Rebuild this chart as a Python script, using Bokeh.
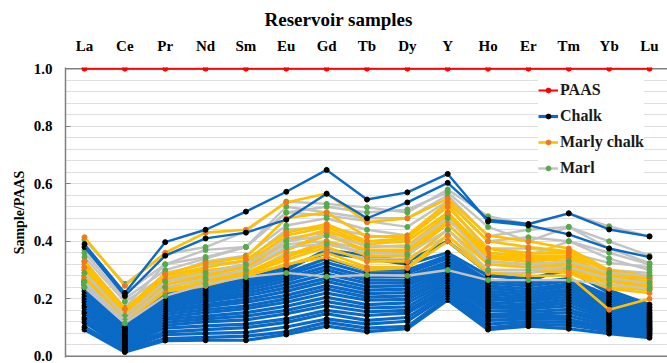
from bokeh.plotting import figure
from bokeh.models import Range1d, FixedTicker, Legend, LegendItem, Span, NumeralTickFormatter
from bokeh.embed import file_html
from bokeh.resources import INLINE

# ---------------- data ----------------
elements = ["La", "Ce", "Pr", "Nd", "Sm", "Eu", "Gd", "Tb", "Dy", "Y", "Ho", "Er", "Tm", "Yb", "Lu"]
y_ticks = [0.0, 0.2, 0.4, 0.6, 0.8, 1.0]
paas = [1.0, 1.0, 1.0, 1.0, 1.0, 1.0, 1.0, 1.0, 1.0, 1.0, 1.0, 1.0, 1.0, 1.0, 1.0]

chalk = [
    [0.093, 0.015, 0.055, 0.056, 0.056, 0.076, 0.105, 0.086, 0.096, 0.196, 0.093, 0.105, 0.096, 0.079, 0.065],
    [0.102, 0.022, 0.062, 0.066, 0.070, 0.085, 0.118, 0.098, 0.104, 0.205, 0.100, 0.112, 0.108, 0.088, 0.072],
    [0.118, 0.028, 0.075, 0.080, 0.083, 0.102, 0.130, 0.112, 0.122, 0.214, 0.112, 0.121, 0.118, 0.095, 0.078],
    [0.128, 0.035, 0.085, 0.093, 0.100, 0.118, 0.148, 0.125, 0.135, 0.222, 0.125, 0.130, 0.128, 0.100, 0.082],
    [0.135, 0.040, 0.098, 0.106, 0.112, 0.130, 0.160, 0.142, 0.150, 0.230, 0.136, 0.138, 0.140, 0.108, 0.088],
    [0.148, 0.046, 0.108, 0.120, 0.127, 0.148, 0.176, 0.155, 0.160, 0.240, 0.145, 0.146, 0.152, 0.116, 0.092],
    [0.155, 0.050, 0.118, 0.130, 0.140, 0.160, 0.190, 0.168, 0.172, 0.250, 0.158, 0.155, 0.163, 0.122, 0.096],
    [0.168, 0.055, 0.128, 0.140, 0.152, 0.174, 0.205, 0.180, 0.186, 0.258, 0.168, 0.165, 0.175, 0.130, 0.100],
    [0.176, 0.060, 0.136, 0.152, 0.166, 0.188, 0.220, 0.195, 0.198, 0.267, 0.178, 0.172, 0.186, 0.138, 0.105],
    [0.188, 0.066, 0.146, 0.162, 0.175, 0.200, 0.234, 0.206, 0.210, 0.275, 0.188, 0.180, 0.196, 0.145, 0.110],
    [0.196, 0.070, 0.155, 0.172, 0.188, 0.212, 0.246, 0.218, 0.222, 0.284, 0.198, 0.190, 0.206, 0.152, 0.115],
    [0.205, 0.075, 0.162, 0.180, 0.198, 0.226, 0.260, 0.230, 0.234, 0.292, 0.206, 0.198, 0.216, 0.160, 0.120],
    [0.215, 0.080, 0.170, 0.190, 0.210, 0.238, 0.272, 0.242, 0.246, 0.300, 0.216, 0.206, 0.226, 0.168, 0.126],
    [0.226, 0.085, 0.178, 0.198, 0.220, 0.250, 0.286, 0.254, 0.256, 0.310, 0.226, 0.215, 0.234, 0.176, 0.132],
    [0.236, 0.090, 0.186, 0.206, 0.230, 0.262, 0.300, 0.265, 0.266, 0.318, 0.236, 0.224, 0.244, 0.184, 0.138],
    [0.246, 0.095, 0.194, 0.214, 0.240, 0.272, 0.312, 0.276, 0.278, 0.328, 0.245, 0.234, 0.252, 0.192, 0.145],
    [0.256, 0.100, 0.202, 0.222, 0.248, 0.282, 0.326, 0.288, 0.290, 0.340, 0.255, 0.245, 0.262, 0.200, 0.152],
    [0.265, 0.105, 0.210, 0.230, 0.255, 0.290, 0.340, 0.300, 0.300, 0.350, 0.265, 0.255, 0.270, 0.210, 0.160],
    [0.260, 0.110, 0.220, 0.245, 0.270, 0.310, 0.360, 0.340, 0.320, 0.360, 0.280, 0.270, 0.300, 0.220, 0.170],
    [0.250, 0.100, 0.215, 0.240, 0.260, 0.300, 0.370, 0.350, 0.330, 0.400, 0.290, 0.260, 0.310, 0.230, 0.180],
]
chalk_high = [
    [0.380, 0.210, 0.350, 0.410, 0.430, 0.475, 0.565, 0.480, 0.535, 0.603, 0.475, 0.460, 0.497, 0.441, 0.417],
    [0.390, 0.220, 0.397, 0.440, 0.503, 0.572, 0.648, 0.545, 0.570, 0.634, 0.469, 0.455, 0.424, 0.375, 0.345],
]
marly_chalk = [
    [0.414, 0.245, 0.360, 0.430, 0.440, 0.535, 0.566, 0.466, 0.480, 0.548, 0.420, 0.400, 0.375, 0.300, 0.280],
    [0.330, 0.160, 0.285, 0.324, 0.345, 0.480, 0.500, 0.415, 0.420, 0.535, 0.400, 0.380, 0.365, 0.290, 0.270],
    [0.320, 0.155, 0.280, 0.310, 0.335, 0.430, 0.460, 0.400, 0.410, 0.520, 0.375, 0.350, 0.350, 0.280, 0.260],
    [0.300, 0.150, 0.270, 0.295, 0.320, 0.420, 0.450, 0.390, 0.400, 0.500, 0.360, 0.345, 0.340, 0.270, 0.250],
    [0.290, 0.140, 0.260, 0.285, 0.310, 0.400, 0.440, 0.380, 0.385, 0.490, 0.350, 0.340, 0.330, 0.265, 0.245],
    [0.280, 0.135, 0.250, 0.275, 0.300, 0.370, 0.420, 0.370, 0.370, 0.480, 0.345, 0.330, 0.320, 0.260, 0.240],
    [0.275, 0.130, 0.240, 0.265, 0.290, 0.350, 0.400, 0.350, 0.350, 0.460, 0.330, 0.320, 0.310, 0.250, 0.235],
    [0.270, 0.125, 0.230, 0.255, 0.285, 0.335, 0.380, 0.330, 0.330, 0.440, 0.320, 0.310, 0.300, 0.240, 0.230],
    [0.270, 0.120, 0.225, 0.245, 0.280, 0.317, 0.360, 0.310, 0.310, 0.420, 0.300, 0.300, 0.290, 0.235, 0.220],
    [0.280, 0.130, 0.235, 0.250, 0.280, 0.320, 0.345, 0.300, 0.307, 0.400, 0.290, 0.280, 0.280, 0.162, 0.200],
    [0.310, 0.145, 0.265, 0.280, 0.290, 0.345, 0.390, 0.360, 0.360, 0.470, 0.375, 0.360, 0.360, 0.293, 0.276],
    [0.330, 0.165, 0.285, 0.300, 0.310, 0.370, 0.430, 0.360, 0.370, 0.490, 0.340, 0.330, 0.345, 0.280, 0.260],
]
marl = [
    [0.405, 0.252, 0.355, 0.380, 0.434, 0.538, 0.530, 0.518, 0.500, 0.580, 0.487, 0.459, 0.497, 0.452, 0.417],
    [0.370, 0.220, 0.320, 0.370, 0.380, 0.520, 0.500, 0.480, 0.480, 0.560, 0.417, 0.440, 0.450, 0.375, 0.324],
    [0.360, 0.200, 0.300, 0.340, 0.380, 0.500, 0.490, 0.470, 0.450, 0.540, 0.400, 0.414, 0.400, 0.360, 0.320],
    [0.345, 0.190, 0.280, 0.330, 0.350, 0.455, 0.480, 0.440, 0.420, 0.520, 0.375, 0.375, 0.360, 0.325, 0.310],
    [0.300, 0.150, 0.270, 0.310, 0.330, 0.410, 0.430, 0.400, 0.400, 0.500, 0.345, 0.330, 0.350, 0.300, 0.290],
    [0.290, 0.140, 0.260, 0.290, 0.320, 0.400, 0.420, 0.385, 0.380, 0.480, 0.330, 0.320, 0.330, 0.290, 0.280],
    [0.280, 0.130, 0.250, 0.280, 0.310, 0.390, 0.400, 0.370, 0.360, 0.460, 0.320, 0.310, 0.320, 0.280, 0.270],
    [0.260, 0.125, 0.240, 0.270, 0.300, 0.380, 0.390, 0.360, 0.355, 0.440, 0.300, 0.300, 0.310, 0.270, 0.255],
    [0.250, 0.120, 0.225, 0.260, 0.285, 0.360, 0.370, 0.340, 0.340, 0.420, 0.290, 0.290, 0.300, 0.260, 0.245],
    [0.240, 0.115, 0.210, 0.250, 0.276, 0.290, 0.277, 0.283, 0.280, 0.300, 0.265, 0.265, 0.265, 0.250, 0.235],
    [0.330, 0.170, 0.320, 0.345, 0.380, 0.500, 0.520, 0.500, 0.510, 0.570, 0.450, 0.400, 0.450, 0.400, 0.350],
    [0.310, 0.160, 0.290, 0.320, 0.330, 0.440, 0.450, 0.420, 0.410, 0.530, 0.360, 0.350, 0.400, 0.340, 0.300],
]
# marl samples drawn above the marly chalk lines (by index into marl)
marl_on_top = [5, 7, 9]

# ---------------- styles ----------------
FONT = "Liberation Serif"
AXIS_GRAY = "#7f7f7f"
C_PAAS = "#ff0000"
C_CHALK = "#0a6ac6"
C_CHALK_M = "#000000"
C_MC = "#ffc000"
C_MC_M = "#f0781e"
C_MARL = "#c3c3c3"
C_MARL_M = "#55aa4a"

x_idx = list(range(len(elements)))

p = figure(width=667, height=363, output_backend="svg", toolbar_location=None,
           x_range=Range1d(-0.471, 14.446), y_range=Range1d(-0.004, 1.004),
           x_axis_location="above", title="Reservoir samples",
           min_border_left=65, min_border_top=67, min_border_right=0, min_border_bottom=6)
p.outline_line_color = None
p.background_fill_color = "white"

# title
p.title.text_font = FONT
p.title.text_font_style = "bold"
p.title.text_font_size = "19px"
p.title.align = "left"
p.title.offset = 199
p.title.standoff = 9
p.title.text_color = "black"

# x axis (top)
p.xaxis.ticker = FixedTicker(ticks=x_idx)
p.xaxis.major_label_overrides = {i: e for i, e in enumerate(elements)}
p.xaxis.major_label_text_font = FONT
p.xaxis.major_label_text_font_style = "bold"
p.xaxis.major_label_text_font_size = "15px"
p.xaxis.major_label_text_color = "black"
p.xaxis.major_tick_line_color = None
p.xaxis.minor_tick_line_color = None
p.xaxis.axis_line_color = None
p.xaxis.major_label_standoff = 8

# y axis
p.yaxis.ticker = FixedTicker(ticks=y_ticks)
p.yaxis.formatter = NumeralTickFormatter(format="0.0")
p.yaxis.axis_label = "Sample/PAAS"
p.yaxis.axis_label_text_font = FONT
p.yaxis.axis_label_text_font_style = "bold"
p.yaxis.axis_label_text_font_size = "14px"
p.yaxis.axis_label_text_color = "black"
p.yaxis.axis_label_standoff = 4
p.yaxis.major_label_text_font = FONT
p.yaxis.major_label_text_font_style = "bold"
p.yaxis.major_label_text_font_size = "15px"
p.yaxis.major_label_text_color = "black"
p.yaxis.major_label_standoff = 13
p.yaxis.axis_line_color = AXIS_GRAY
p.yaxis.axis_line_width = 1.5
p.yaxis.major_tick_line_color = AXIS_GRAY
p.yaxis.major_tick_in = 5
p.yaxis.major_tick_out = 0
p.yaxis.minor_tick_line_color = None

# grid
p.xgrid.visible = False
p.ygrid.ticker = FixedTicker(ticks=[k * 0.04 for k in range(1, 25)])
p.ygrid.grid_line_color = "#dedede"
p.ygrid.grid_line_width = 1.2

p.add_layout(Span(location=0, dimension="width", line_color=AXIS_GRAY, line_width=1.5, level="underlay"))
p.add_layout(Span(location=1.0, dimension="width", line_color=AXIS_GRAY, line_width=1.5, level="underlay"))

MS = 5


def draw(values, lc, mc, lw=2.4):
    lr = p.line(x_idx, values, line_color=lc, line_width=lw)
    sr = p.scatter(x_idx, values, marker="circle", size=MS, fill_color=mc, line_color=mc)
    return lr, sr


chalk_r = None
for row in chalk:
    r = draw(row, C_CHALK, C_CHALK_M, lw=3.2)
    if chalk_r is None:
        chalk_r = r

marl_r = None
for i, row in enumerate(marl):
    if i in marl_on_top:
        continue
    r = draw(row, C_MARL, C_MARL_M)
    if marl_r is None:
        marl_r = r

mc_r = None
for row in marly_chalk:
    r = draw(row, C_MC, C_MC_M, lw=2.6)
    if mc_r is None:
        mc_r = r

for i in marl_on_top:
    draw(marl[i], C_MARL, C_MARL_M)

for row in chalk_high:
    draw(row, C_CHALK, C_CHALK_M)

paas_r = draw(paas, C_PAAS, C_PAAS, lw=2)

legend = Legend(items=[
    LegendItem(label="PAAS", renderers=list(paas_r)),
    LegendItem(label="Chalk", renderers=list(chalk_r)),
    LegendItem(label="Marly chalk", renderers=list(mc_r)),
    LegendItem(label="Marl", renderers=list(marl_r)),
], location=(473, 179))
legend.label_text_font = FONT
legend.label_text_font_style = "bold"
legend.label_text_font_size = "16px"
legend.label_text_color = "#1a1a1a"
legend.glyph_width = 20
legend.glyph_height = 12
legend.label_height = 20
legend.label_standoff = 2
legend.spacing = 6
legend.padding = 2
legend.margin = 0
legend.border_line_color = None
legend.background_fill_color = "white"
legend.background_fill_alpha = 1.0
p.add_layout(legend)

open("out.html", "w").write(file_html(p, INLINE))
